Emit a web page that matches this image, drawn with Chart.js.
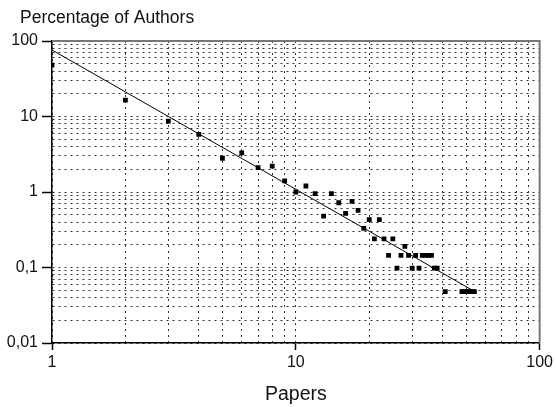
<!DOCTYPE html>
<html>
<head>
<meta charset="utf-8">
<script src="https://cdn.jsdelivr.net/npm/chart.js@4.4.1/dist/chart.umd.min.js"></script>
<style>
  html, body { margin: 0; padding: 0; background: #fff; }
  #wrap { width: 556px; height: 407px; }
</style>
</head>
<body>
<div id="wrap"><canvas id="myChart"></canvas></div>
<script>
// papers per author (x) vs. percentage of authors (y)
var papers = [1, 2, 3, 4, 5, 6, 7, 8, 9, 10, 11, 12, 13, 14, 15, 16, 17, 18, 19, 20,
    21, 22, 23, 24, 25, 26, 27, 28, 29, 30, 31, 32, 33, 34, 35, 36, 37, 38, 41,
    48, 49, 50, 51, 52, 53, 54];
var percent = [48, 16.5, 8.7, 5.8, 2.8, 3.3, 2.1, 2.2, 1.4, 1.0, 1.2, 0.95, 0.48, 0.95, 0.72, 0.52, 0.75, 0.57, 0.33, 0.43,
    0.24, 0.43, 0.24, 0.145, 0.24, 0.098, 0.145, 0.19, 0.145, 0.098, 0.145, 0.098, 0.145, 0.145, 0.145, 0.145, 0.098, 0.098, 0.048,
    0.048, 0.048, 0.048, 0.048, 0.048, 0.048, 0.048];

// fitted power law line, end points
var fitX = [1, 53];
var fitY = [76, 0.05];

var xMajor = [1, 10, 100];
var xTickLabels = ["1", "10", "100"];
var yMajor = [0.01, 0.1, 1, 10, 100];
var yTickLabels = ["0,01", "0,1", "1", "10", "100"];

function gridValues(major) {
    var out = [];
    for (var i = 0; i < major.length - 1; i++) {
        for (var k = 1; k <= 9; k++) {
            out.push(parseFloat((major[i] * k).toPrecision(6)));
        }
    }
    out.push(major[major.length - 1]);
    return out;
}
function findMajor(major, v) {
    for (var i = 0; i < major.length; i++) {
        if (Math.abs(v - major[i]) / major[i] < 1e-6) return i;
    }
    return -1;
}

var pts = papers.map(function (p, i) { return { x: p, y: percent[i] }; });
var fit = fitX.map(function (p, i) { return { x: p, y: fitY[i] }; });

var fontFam = "'Liberation Sans', Arial, sans-serif";

var frame = {
    id: 'frame',
    afterDraw: function (chart) {
        var c = chart.ctx, a = chart.chartArea;
        c.save();
        c.strokeStyle = '#777';
        c.lineWidth = 2;
        c.beginPath();
        c.moveTo(a.left, a.top);
        c.lineTo(a.right, a.top);
        c.lineTo(a.right, a.bottom);
        c.stroke();
        c.fillStyle = '#111';
        c.font = '17.5px ' + fontFam;
        c.textBaseline = 'middle';
        c.textAlign = 'left';
        c.fillText('Percentage of Authors', 20, 18);
        c.font = '19.5px ' + fontFam;
        c.textAlign = 'center';
        c.fillText('Papers', (a.left + a.right) / 2, 395);
        c.restore();
    }
};

function axis(major, labels, isY) {
    return {
        type: 'logarithmic',
        min: major[0],
        max: major[major.length - 1],
        afterBuildTicks: function (scale) {
            scale.ticks = gridValues(major).map(function (v) { return { value: v }; });
        },
        afterFit: function (scale) {
            if (isY) scale.width = 52; else scale.height = 64;
        },
        ticks: {
            autoSkip: false,
            maxRotation: 0,
            padding: isY ? 4 : 3,
            color: '#111',
            font: { family: fontFam, size: 16 },
            callback: function (v) {
                var i = findMajor(major, v);
                return i >= 0 ? labels[i] : '';
            }
        },
        grid: {
            color: '#333',
            lineWidth: 1,
            tickLength: isY ? 10 : 7,
            tickBorderDash: [],
            tickWidth: 1.5,
            tickColor: function (ctx) {
                return ctx.tick && findMajor(major, ctx.tick.value) >= 0 ? '#000' : 'rgba(0,0,0,0)';
            }
        },
        border: { display: true, color: '#000', width: 1.5, dash: [2, 4] }
    };
}

new Chart("myChart", {
    type: "scatter",
    data: {
        datasets: [{
            data: pts,
            pointStyle: 'rect',
            pointRadius: 3.4,
            pointBorderWidth: 0,
            backgroundColor: '#000'
        }, {
            data: fit,
            showLine: true,
            borderColor: '#000',
            borderWidth: 1,
            pointRadius: 0
        }]
    },
    options: {
        responsive: true,
        maintainAspectRatio: false,
        animation: false,
        layout: { padding: { top: 41, right: 15, left: 0, bottom: 0 } },
        plugins: {
            legend: { display: false },
            tooltip: { enabled: false }
        },
        scales: {
            x: axis(xMajor, xTickLabels, false),
            y: axis(yMajor, yTickLabels, true)
        }
    },
    plugins: [frame]
});
</script>
</body>
</html>
